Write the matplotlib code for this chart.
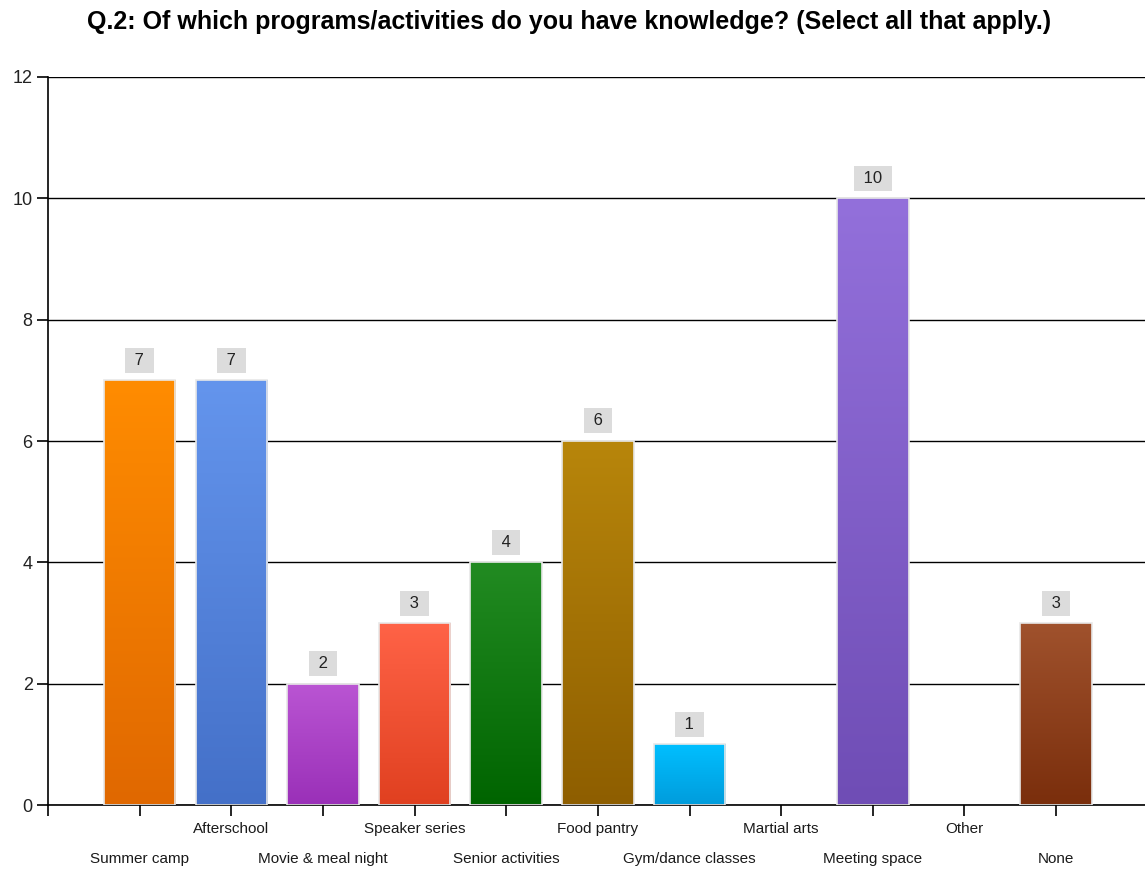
import numpy as np
import matplotlib
matplotlib.use("Agg")
import matplotlib.pyplot as plt
from matplotlib.colors import LinearSegmentedColormap

plt.rcParams['font.family'] = ['Liberation Sans', 'DejaVu Sans']

categories = ["Summer camp", "Afterschool", "Movie & meal night", "Speaker series",
              "Senior activities", "Food pantry", "Gym/dance classes", "Martial arts",
              "Meeting space", "Other", "None"]
counts = [7, 7, 2, 3, 4, 6, 1, 0, 10, 0, 3]
top_colors = ["#FF8C00", "#6495ED", "#BA55D3", "#FF6347", "#228B22", "#B8860B",
              "#00BFFF", "#8A2BE2", "#9370DB", "#808080", "#A0522D"]
bottom_colors = ["#E06800", "#4470C8", "#9A30B8", "#E04020", "#006400", "#8E5E00",
                 "#009CDC", "#6A1BB2", "#6F4DB5", "#606060", "#7A2E0C"]
title = "Q.2: Of which programs/activities do you have knowledge? (Select all that apply.)"

fig = plt.figure(figsize=(11.45, 8.69), dpi=100)
ax = fig.add_axes([0.0419, 0.0736, 0.9581, 0.8378])

x = np.arange(len(categories))
width = 0.78
edge = ["#E8E8E8" if v > 0 else "none" for v in counts]
bars = ax.bar(x, counts, width=width, color="none", edgecolor=edge,
              linewidth=1.2, zorder=3)

grad = np.linspace(1, 0, 256).reshape(-1, 1)
for i, (b, v) in enumerate(zip(bars, counts)):
    if v <= 0:
        continue
    cmap = LinearSegmentedColormap.from_list(f"g{i}", [bottom_colors[i], top_colors[i]])
    im = ax.imshow(grad, cmap=cmap, aspect="auto", zorder=2,
                   extent=[b.get_x(), b.get_x() + b.get_width(), 0, v],
                   vmin=0, vmax=1)
    im.set_clip_path(b)
    ax.text(b.get_x() + b.get_width() / 2, v + 0.33, f" {v} ", ha="center",
            va="center", fontsize=12, color="#222222", zorder=4,
            bbox=dict(boxstyle="square,pad=0.3", facecolor="#DCDCDC",
                      edgecolor="none"))

ax.set_xlim(-1, 10.97)
ax.set_ylim(0, 12)
ax.set_yticks(range(0, 13, 2))
ax.yaxis.grid(True, color="black", linewidth=1.0, zorder=1)
ax.set_axisbelow(True)

ax.set_xticks(np.concatenate([[-1], x]))
ax.set_xticklabels([""] + categories)
for j, lab in enumerate(ax.get_xticklabels()[1:]):
    lab.set_y(0 if j % 2 == 1 else -0.041)

ax.tick_params(axis="x", length=8, width=1.2, labelsize=11, pad=4,
               colors="black", labelcolor="#1a1a1a")
ax.tick_params(axis="y", length=8, width=1.2, labelsize=13, pad=3,
               colors="black", labelcolor="#222222")

for s in ["top", "right"]:
    ax.spines[s].set_visible(False)
for s in ["left", "bottom"]:
    ax.spines[s].set_linewidth(1.2)
    ax.spines[s].set_color("black")

fig.text(0.497, 0.975, title, ha="center", va="center", fontsize=18,
         fontweight="bold", color="black")

fig.savefig("out.png", dpi=100)
